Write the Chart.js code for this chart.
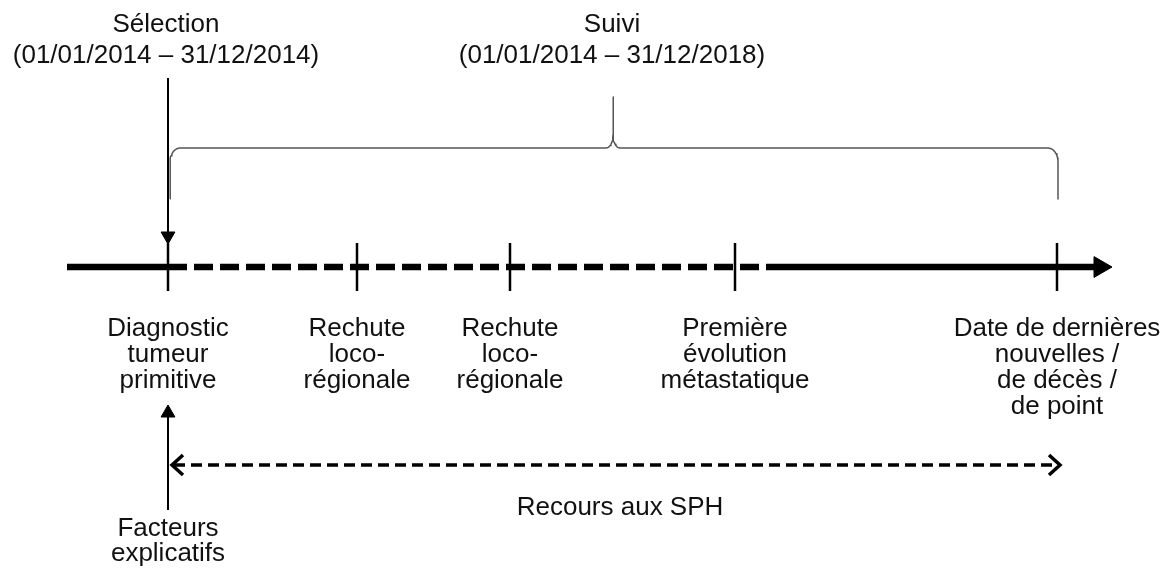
<!DOCTYPE html>
<html><head><meta charset="utf-8">
<script src="https://cdn.jsdelivr.net/npm/chart.js@4/dist/chart.umd.min.js"></script>
<style>html,body{margin:0;padding:0;background:#fff;overflow:hidden}#wrap{width:1165px;height:585px;position:relative}</style>
</head><body><div id="wrap"><canvas id="c"></canvas></div>
<script>
// ---- Diagram data (x: horizontal position on the diagram scale, y: vertical position) ----
const eventLabels = [
  ["Diagnostic", "tumeur", "primitive"],
  ["Rechute", "loco-", "régionale"],
  ["Rechute", "loco-", "régionale"],
  ["Première", "évolution", "métastatique"],
  ["Date de dernières", "nouvelles /", "de décès /", "de point"]
];
const eventX = [168, 357, 510, 735, 1057];
const eventLabelX = [168, 357, 510, 735, 1057];
const axisY = 267;
const axisStartX = 67;
const axisEndX = 1112;
const dashedEndX = 772;

const periodTitles = ["Sélection", "Suivi"];
const periodDates = ["(01/01/2014 – 31/12/2014)", "(01/01/2014 – 31/12/2018)"];
const periodTextX = [166, 612];
const periodTextY = [32, 63];
const selectionArrowY = [78, 244];
const braceY = { top: 148, ends: 199, peak: 97 };
const bracePeakX = 613;

const labelFirstY = 336;
const labelStepY = 26;
const recoursLabel = "Recours aux SPH";
const recoursTextPos = [620, 515];
const recoursY = 465;
const recoursX = [172, 1060];
const factorsLabel = ["Facteurs", "explicatifs"];
const factorsTextY = [536, 561];
const factorsArrowY = [510, 405];

// ---- helpers that build line geometry from the values above ----
function pts(xs, ys) { return xs.map((x, i) => ({ x: x, y: ys[i] })); }
function quarter(cx, cy, rx, ry, a0, a1, n) {
  const out = [];
  for (let i = 0; i <= n; i++) {
    const a = a0 + (a1 - a0) * i / n;
    out.push({ x: cx + rx * Math.cos(a), y: cy + ry * Math.sin(a) });
  }
  return out;
}
function bracePoints(x0, x1, xp) {
  const rx = 10, ry = 14, prx = 7, pry = 13, n = 10;
  const P = Math.PI;
  let p = [{ x: x0, y: braceY.ends }];
  p = p.concat(quarter(x0 + rx, braceY.top + ry, rx, ry, P, 1.5 * P, n));
  p = p.concat(quarter(xp - prx, braceY.top - pry, prx, pry, 0.5 * P, 0, n));
  p.push({ x: xp, y: braceY.peak });
  p = p.concat(quarter(xp + prx, braceY.top - pry, prx, pry, P, 0.5 * P, n));
  p = p.concat(quarter(x1 - rx, braceY.top + ry, rx, ry, 1.5 * P, 2 * P, n));
  p.push({ x: x1, y: braceY.ends });
  return p;
}

const K = '#000';
const lineDs = (data, extra) => Object.assign({
  type: 'line', data: data, borderColor: K, backgroundColor: K,
  borderWidth: 2, pointRadius: 0, showLine: true, tension: 0, fill: false,
  borderCapStyle: 'butt', borderJoinStyle: 'miter', parsing: false, clip: false
}, extra || {});
const headR = 12, smallHeadR = 8;

const datasets = [
  lineDs(pts([axisStartX, eventX[0]], [axisY, axisY]), { borderWidth: 6.5 }),
  lineDs(pts([eventX[0], dashedEndX], [axisY, axisY]), { borderWidth: 6.5, borderDash: [19, 7] }),
  lineDs(pts([dashedEndX, axisEndX - headR], [axisY, axisY]), { borderWidth: 6.5 }),
  lineDs(pts([axisEndX - headR], [axisY]), { showLine: false, pointRadius: headR, pointStyle: 'triangle', rotation: 90, borderWidth: 1 }),
  lineDs(eventX.map(x => ({ x: x, y: axisY })), { showLine: false, pointRadius: 24, pointStyle: 'line', rotation: 90, borderWidth: 2.5 }),
  lineDs(pts([eventX[0], eventX[0]], [selectionArrowY[0], selectionArrowY[1] - smallHeadR]), { borderWidth: 2 }),
  lineDs(pts([eventX[0]], [selectionArrowY[1] - smallHeadR]), { showLine: false, pointRadius: smallHeadR, pointStyle: 'triangle', rotation: 180, borderWidth: 1 }),
  lineDs(bracePoints(eventX[0] + 2, eventX[eventX.length - 1] + 1, bracePeakX), { borderWidth: 1.5, borderColor: '#555', borderJoinStyle: 'round' }),
  lineDs(pts([eventX[0], eventX[0]], [factorsArrowY[0], factorsArrowY[1] + smallHeadR]), { borderWidth: 2 }),
  lineDs(pts([eventX[0]], [factorsArrowY[1] + smallHeadR]), { showLine: false, pointRadius: smallHeadR, pointStyle: 'triangle', rotation: 0, borderWidth: 1 }),
  lineDs(pts([recoursX[0] + 2, recoursX[1] - 2], [recoursY, recoursY]), { borderWidth: 3.5, borderDash: [11, 6] }),
  lineDs(pts([recoursX[0] + 11, recoursX[0], recoursX[0] + 11], [recoursY - 10, recoursY, recoursY + 10]), { borderWidth: 3.5 }),
  lineDs(pts([recoursX[1] - 11, recoursX[1], recoursX[1] - 11], [recoursY - 10, recoursY, recoursY + 10]), { borderWidth: 3.5 })
];

const FONT = '26px "Liberation Sans", Arial, sans-serif';
const textPlugin = {
  id: 'diagramText',
  afterDatasetsDraw(chart) {
    const ctx = chart.ctx, xs = chart.scales.x, ys = chart.scales.y;
    ctx.save();
    ctx.font = FONT;
    ctx.fillStyle = '#111';
    ctx.textAlign = 'center';
    ctx.textBaseline = 'alphabetic';
    const put = (t, x, y) => ctx.fillText(t, xs.getPixelForValue(x), ys.getPixelForValue(y));
    periodTitles.forEach((t, i) => { put(t, periodTextX[i], periodTextY[0]); put(periodDates[i], periodTextX[i], periodTextY[1]); });
    eventLabels.forEach((lines, i) => lines.forEach((t, j) => put(t, eventLabelX[i], labelFirstY + j * labelStepY)));
    put(recoursLabel, recoursTextPos[0], recoursTextPos[1]);
    factorsLabel.forEach((t, j) => put(t, eventX[0], factorsTextY[j]));
    ctx.restore();
  }
};

new Chart(document.getElementById('c'), {
  type: 'scatter',
  data: { datasets: datasets },
  options: {
    responsive: true, maintainAspectRatio: false, animation: false, events: [],
    layout: { padding: 0, autoPadding: false },
    plugins: { legend: { display: false }, tooltip: { enabled: false } },
    scales: {
      x: { type: 'linear', min: 0, max: 1165, display: false },
      y: { type: 'linear', min: 0, max: 585, reverse: true, display: false }
    }
  },
  plugins: [textPlugin]
});
</script>
</body></html>
